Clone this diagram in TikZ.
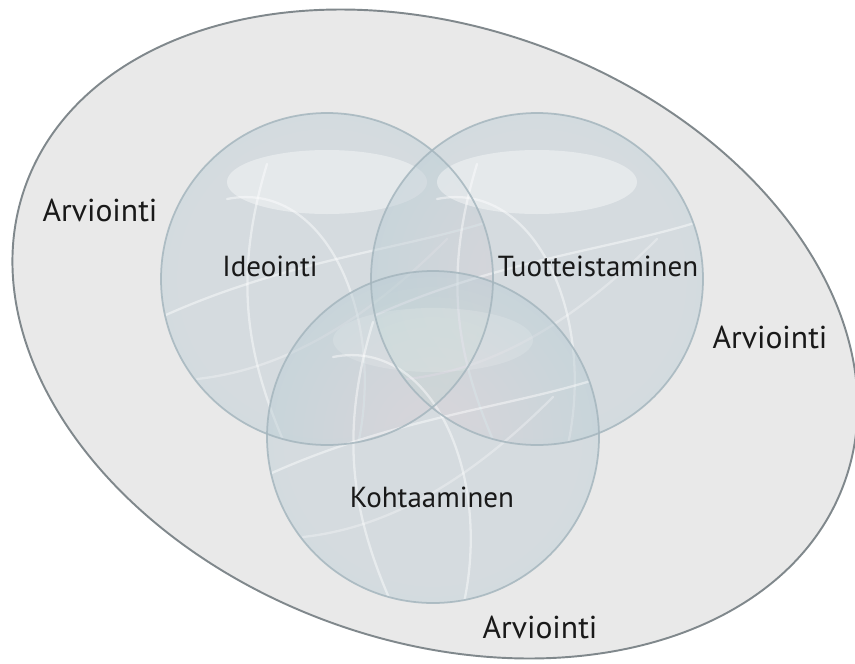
\documentclass[tikz,border=0pt]{standalone}
\usepackage{fontspec}
\setmainfont{PT Sans}
\definecolor{pagegray}{RGB}{233,233,233}
\definecolor{rimgray}{RGB}{128,136,140}
\definecolor{lensblue}{RGB}{186,204,212}
\definecolor{lensedge}{RGB}{165,182,190}

\begin{document}
\begin{tikzpicture}[x=0.02cm,y=-0.02cm,
  frame/.style={fill=pagegray,draw=rimgray,line width=1.1pt},
  lens/.style={fill=lensblue,fill opacity=0.45},
  glow/.style={fill=white,fill opacity=0.025},
  rim/.style={draw=lensedge,line width=1pt,draw opacity=0.85},
  shine/.style={fill=white},
  streak/.style={draw=white,line width=1.3pt,draw opacity=0.45,line cap=round},
  tag/.style={font=\fontsize{18}{20}\selectfont,text=black!90},
  lbl/.style={font=\fontsize{16.5}{19}\selectfont,text=black!90}]
  \useasboundingbox(0,0)rectangle(855,663);
  % outer field
  \begin{scope}[shift={(435,334)},rotate=-20]
    \draw[frame](0,0)ellipse(435.5 and 306.7);
  \end{scope}
  % the three lenses
  \foreach \cx/\cy/\sh in {327/279/0.4,537/279/0.4,433/437/0.15}
    {
      \fill[lens](\cx,\cy)circle(166);
      \foreach \r in {160,150,...,20}
        \fill[glow](\cx,\cy)circle(\r);
      \begin{scope}
        \clip(\cx,\cy)circle(166);
        \fill[shine,fill opacity=\sh](\cx,\cy-97)ellipse(100 and 32);
        \draw[streak](\cx-100,\cy-80)..controls(\cx,\cy-100)and(\cx+60,\cy+40)..(\cx+30,\cy+170);
        \draw[streak](\cx-60,\cy-115)..controls(\cx-95,\cy)and(\cx-80,\cy+80)..(\cx-40,\cy+170);
        \draw[streak](\cx-170,\cy+40)..controls(\cx-40,\cy-20)and(\cx+80,\cy-30)..(\cx+170,\cy-60);
        \draw[streak,draw opacity=0.3](\cx+120,\cy-40)..controls(\cx+40,\cy+40)and(\cx-40,\cy+90)..(\cx-130,\cy+100);
      \end{scope}
    }
  \foreach \cx/\cy in {327/279,537/279,433/437}
    \draw[rim](\cx,\cy)circle(166);
  % labels
  \node[lbl] (idea) at (270,266) {Ideointi};
  \node[lbl] (prod) at (598,266) {Tuotteistaminen};
  \node[lbl] (meet) at (432,497) {Kohtaaminen};
  \node[tag] (evalA) at (100,210) {Arviointi};
  \node[tag] (evalB) at (770,337) {Arviointi};
  \node[tag] (evalC) at (540,627) {Arviointi};
\end{tikzpicture}
\end{document}
